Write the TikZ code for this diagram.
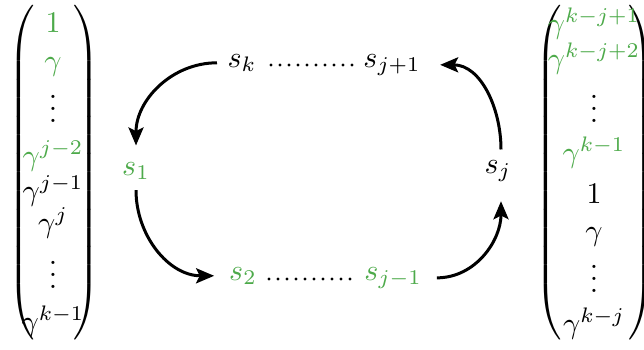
\documentclass[tikz,border=0pt]{standalone}
\usetikzlibrary{arrows.meta}
\definecolor{gr}{RGB}{77,170,74}
\newcommand{\lpar}{\resizebox*{\width}{113.5pt}{$\left(\vcenter{\hbox{\rule{0pt}{110pt}}}\right.$}}
\newcommand{\rpar}{\resizebox*{\width}{113.5pt}{$\left.\vcenter{\hbox{\rule{0pt}{110pt}}}\right)$}}
\begin{document}
\begin{tikzpicture}[x=0.33333pt,y=-0.33333pt,
  ent/.style={anchor=base,inner sep=0pt},
  st/.style={anchor=base},
  gtxt/.style={text=gr},
  par/.style={inner sep=0pt},
  arr/.style={line width=1pt,-{Stealth[length=6pt,width=5pt,inset=1.2pt]}},
  dotline/.style={line width=1.1pt,dash pattern=on 0pt off 3pt,line cap=round}]
\useasboundingbox (0,0) rectangle (644,349);
% left vector
\node[par] (lp1) at (23,172.5) {\lpar};
\node[par] (rp1) at (85,172.5) {\rpar};
\node[ent,gtxt] (l1) at (53,32) {$1$};
\node[ent,gtxt] (l2) at (53,70) {$\gamma$};
\node[ent] (l3) at (53,122) {$\vdots$};
\node[ent,gtxt] (l4) at (53,165) {$\gamma^{j-2}$};
\node[ent] (l5) at (53,200) {$\gamma^{j-1}$};
\node[ent] (l6) at (53,232) {$\gamma^{j}$};
\node[ent] (l7) at (53,288) {$\vdots$};
\node[ent] (l8) at (53,331) {$\gamma^{k-1}$};
% right vector
\node[par] (lp2) at (550,172.5) {\lpar};
\node[par] (rp2) at (640,172.5) {\rpar};
\node[ent,gtxt] (r1) at (594,33) {$\gamma^{k-j+1}$};
\node[ent,gtxt] (r2) at (594,68) {$\gamma^{k-j+2}$};
\node[ent] (r3) at (594,122) {$\vdots$};
\node[ent,gtxt] (r4) at (594,162) {$\gamma^{k-1}$};
\node[ent] (r5) at (594,203) {$1$};
\node[ent] (r6) at (594,240) {$\gamma$};
\node[ent] (r7) at (594,292) {$\vdots$};
\node[ent] (r8) at (594,333) {$\gamma^{k-j}$};
% cycle
\node[st] (sk) at (242,67) {$s_k$};
\node[st] (sj1) at (392,67) {$s_{j+1}$};
\node[st,gtxt] (s1) at (136,175) {$s_1$};
\node[st] (sj) at (498,173) {$s_j$};
\node[st,gtxt] (s2) at (243,280) {$s_2$};
\node[st,gtxt] (sjm) at (393,280) {$s_{j-1}$};
\coordinate (ta) at (271,65);
\coordinate (tb) at (360,65);
\coordinate (ba) at (269,279);
\coordinate (bb) at (357,279);
\draw[dotline] (ta) -- (tb);
\draw[dotline] (ba) -- (bb);
\draw[arr] (sk.west) to[out=180,in=90] ([yshift=2pt]s1.north);
\draw[arr] (s1.south) to[out=-90,in=180] ([xshift=-1.5pt]s2.west);
\draw[arr] ([xshift=1.5pt]sjm.east) to[out=0,in=-90] ([xshift=1pt,yshift=-3pt]sj.south);
\draw[arr] ([xshift=1pt]sj.north) to[out=90,in=0] ([xshift=3pt]sj1.east);
\end{tikzpicture}
\end{document}
